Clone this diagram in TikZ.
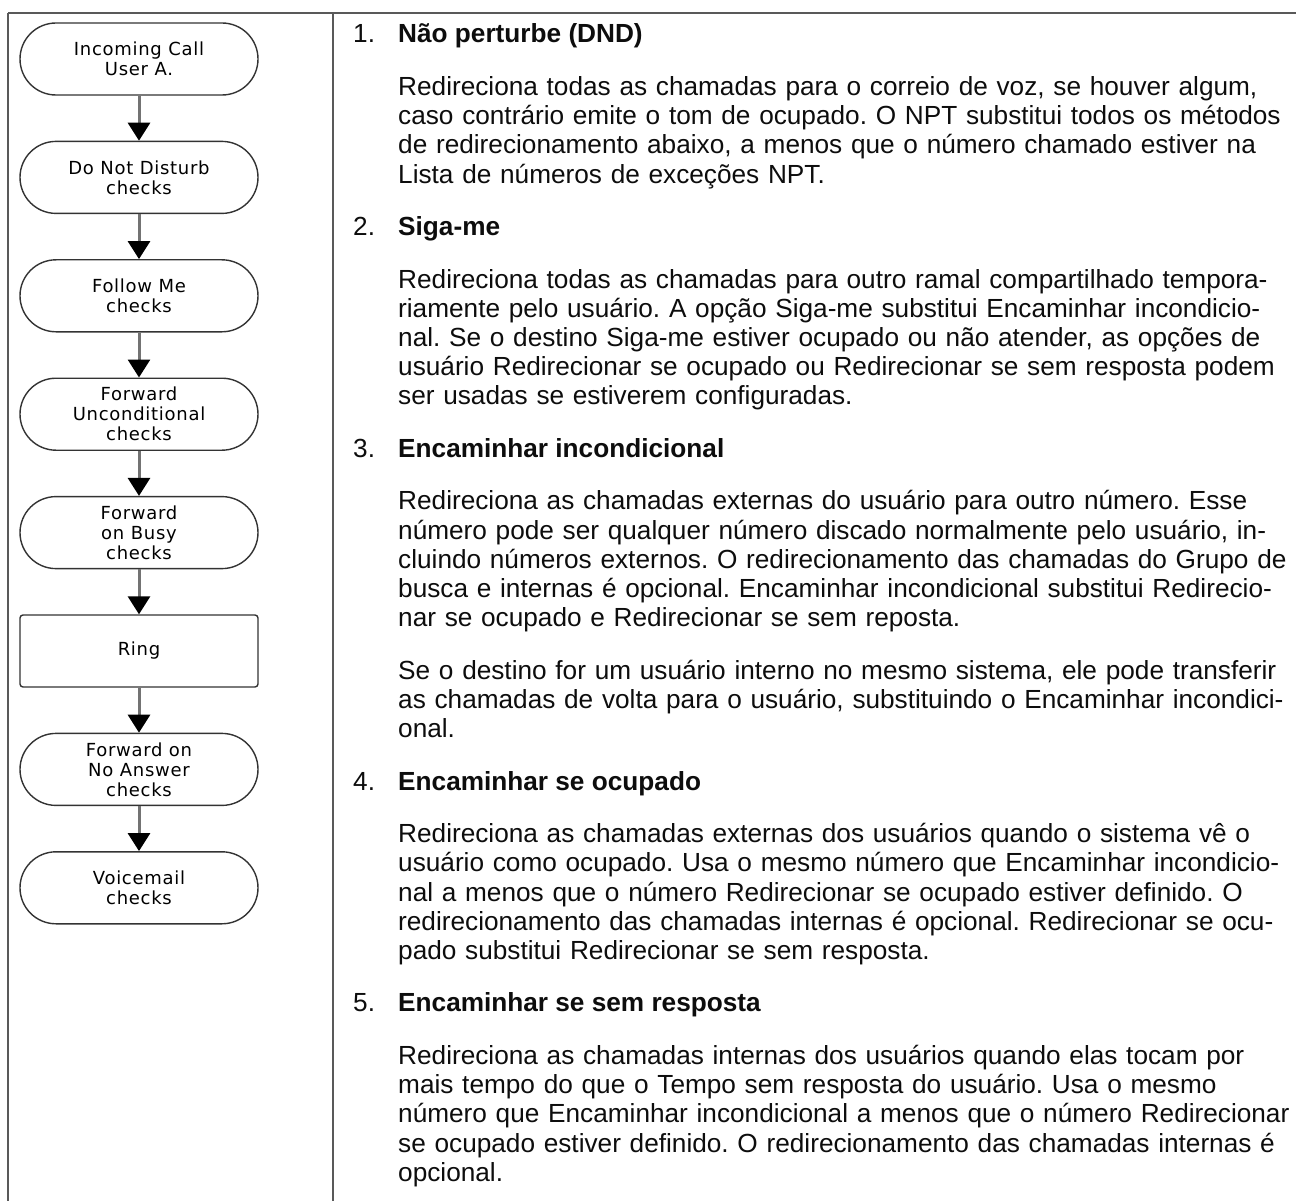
\documentclass[tikz,border=0pt]{standalone}
\usepackage{fontspec}
\setmainfont{Liberation Sans}
\newfontfamily\flowfont[LetterSpace=4]{DejaVu Sans}
\usetikzlibrary{arrows.meta}
\frenchspacing
\begin{document}
\begin{tikzpicture}[x=1pt,y=-1pt,
  flowbox/.style={draw=black!80, line width=1.4pt, fill=white, rounded corners=36pt,
    minimum width=238pt, minimum height=72pt, inner sep=0pt,
    font=\flowfont\fontsize{18}{20}\selectfont, align=center, text=black},
  ringbox/.style={flowbox, rounded corners=3pt},
  flowarrow/.style={draw=black!55, line width=3pt, -{Triangle[width=22pt,length=18pt,color=black]}},
  tableline/.style={draw=black!65, line width=1.5pt},
  numtext/.style={anchor=base west, inner sep=0pt, text=black!95, font=\fontsize{26.2}{29.2}\selectfont},
  headtext/.style={anchor=base west, inner sep=0pt, text=black!95, font=\bfseries\fontsize{26.2}{29.2}\selectfont},
  bodytext/.style={anchor=base west, inner sep=0pt, text=black!95, text width=895pt, align=left, font=\fontsize{26.2}{29.2}\selectfont}
]
\useasboundingbox (0,0) rectangle (1296,1201);
\fill[white] (0,0) rectangle (1296,1201);

% table frame
\draw[tableline] (8,13) -- (1296,13);
\draw[tableline] (8,13) -- (8,1201);
\draw[tableline] (333,13) -- (333,1201);

% flowchart
\node[flowbox] (n1) at (139,59) {Incoming Call\\User A.};
\node[flowbox] (n2) at (139,177.4) {Do Not Disturb\\checks};
\node[flowbox] (n3) at (139,295.8) {Follow Me\\checks};
\node[flowbox] (n4) at (139,414.2) {Forward\\Unconditional\\checks};
\node[flowbox] (n5) at (139,532.6) {Forward\\on Busy\\checks};
\node[ringbox] (n6) at (139,651) {Ring};
\node[flowbox] (n7) at (139,769.4) {Forward on\\No Answer\\checks};
\node[flowbox] (n8) at (139,887.8) {Voicemail\\checks};

\draw[flowarrow] (n1) -- (n2);
\draw[flowarrow] (n2) -- (n3);
\draw[flowarrow] (n3) -- (n4);
\draw[flowarrow] (n4) -- (n5);
\draw[flowarrow] (n5) -- (n6);
\draw[flowarrow] (n6) -- (n7);
\draw[flowarrow] (n7) -- (n8);

% text column
\node[numtext] (k1) at (353,43) {1.};
\node[headtext] (h1) at (398,43) {Não perturbe (DND)};
\node[bodytext] (p1) at (398,95.5) {Redireciona todas as chamadas para o correio de voz, se houver algum,\\
caso contrário emite o tom de ocupado. O NPT substitui todos os métodos\\
de redirecionamento abaixo, a menos que o número chamado estiver na\\
Lista de números de exceções NPT.};

\node[numtext] (k2) at (353,235.6) {2.};
\node[headtext] (h2) at (398,235.6) {Siga-me};
\node[bodytext] (p2) at (398,288.1) {Redireciona todas as chamadas para outro ramal compartilhado tempora-\\
riamente pelo usuário. A opção Siga-me substitui Encaminhar incondicio-\\
nal. Se o destino Siga-me estiver ocupado ou não atender, as opções de\\
usuário Redirecionar se ocupado ou Redirecionar se sem resposta podem\\
ser usadas se estiverem configuradas.};

\node[numtext] (k3) at (353,457.4) {3.};
\node[headtext] (h3) at (398,457.4) {Encaminhar incondicional};
\node[bodytext] (p3) at (398,509.9) {Redireciona as chamadas externas do usuário para outro número. Esse\\
número pode ser qualquer número discado normalmente pelo usuário, in-\\
cluindo números externos. O redirecionamento das chamadas do Grupo de\\
busca e internas é opcional. Encaminhar incondicional substitui Redirecio-\\
nar se ocupado e Redirecionar se sem reposta.};
\node[bodytext] (q3) at (398,679.2) {Se o destino for um usuário interno no mesmo sistema, ele pode transferir\\
as chamadas de volta para o usuário, substituindo o Encaminhar incondici-\\
onal.};

\node[numtext] (k4) at (353,790.1) {4.};
\node[headtext] (h4) at (398,790.1) {Encaminhar se ocupado};
\node[bodytext] (p4) at (398,842.6) {Redireciona as chamadas externas dos usuários quando o sistema vê o\\
usuário como ocupado. Usa o mesmo número que Encaminhar incondicio-\\
nal a menos que o número Redirecionar se ocupado estiver definido. O\\
redirecionamento das chamadas internas é opcional. Redirecionar se ocu-\\
pado substitui Redirecionar se sem resposta.};

\node[numtext] (k5) at (353,1011.9) {5.};
\node[headtext] (h5) at (398,1011.9) {Encaminhar se sem resposta};
\node[bodytext] (p5) at (398,1064.4) {Redireciona as chamadas internas dos usuários quando elas tocam por\\
mais tempo do que o Tempo sem resposta do usuário. Usa o mesmo\\
número que Encaminhar incondicional a menos que o número Redirecionar\\
se ocupado estiver definido. O redirecionamento das chamadas internas é\\
opcional.};
\end{tikzpicture}
\end{document}
